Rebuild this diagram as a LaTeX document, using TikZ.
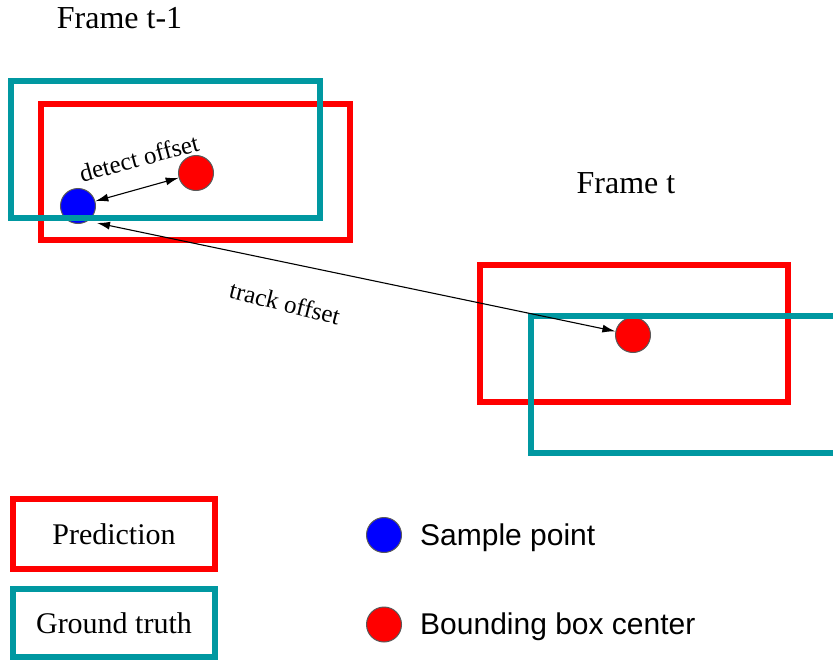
\documentclass[tikz,border=0pt]{standalone}
\usepackage{fontspec}
\setmainfont{Liberation Serif}
\newfontfamily\legendsans{Liberation Sans}
\usetikzlibrary{arrows.meta}
\definecolor{gtteal}{RGB}{0,152,161}
\definecolor{predred}{RGB}{255,0,0}
\definecolor{dotblue}{RGB}{0,0,255}
\begin{document}
\begin{tikzpicture}[x=1pt,y=-1pt,
  predbox/.style={draw=predred,line width=6pt},
  gtbox/.style={draw=gtteal,line width=6pt},
  dot/.style={circle,draw=black!65,line width=1pt,minimum size=35pt,inner sep=0pt},
  sampledot/.style={dot,fill=dotblue},
  centerdot/.style={dot,fill=predred},
  offsetarrow/.style={{Latex[length=13pt,width=8pt]}-{Latex[length=13pt,width=8pt]},line width=1.1pt,black},
  frametitle/.style={font=\fontsize{32}{38}\selectfont,anchor=base,inner sep=0pt},
  offsetlabel/.style={font=\fontsize{25}{30}\selectfont,inner sep=0pt},
  legendtext/.style={font=\fontsize{30}{36}\selectfont,inner sep=0pt},
  legendsanstext/.style={font=\legendsans\fontsize{30}{36}\selectfont,anchor=base west,inner sep=0pt}
]
\useasboundingbox (0,0) rectangle (833,661);

% frame titles
\node[frametitle] (ttlprev) at (119.5,29) {Frame t-1};
\node[frametitle] (ttlcur) at (626,193) {Frame t};

% points
\node[sampledot] (sample) at (78,206) {};
\node[centerdot] (cprev) at (196,173) {};
\node[centerdot] (ccur) at (633,335) {};

% frame t-1 boxes
\draw[predbox] (40.5,104) rectangle (350,240);
\draw[gtbox] (10.5,81) rectangle (320,217.5);

% frame t boxes
\draw[predbox] (480,265) rectangle (788,402);
\draw[gtbox] (531,316) rectangle (845,453);

% offsets
\coordinate (trackstart) at (97,223);
\draw[offsetarrow] (sample) -- (cprev);
\draw[offsetarrow] (trackstart) -- (ccur);
\node[offsetlabel,rotate=15] (detlbl) at (139,158) {detect offset};
\node[offsetlabel,rotate=-14] (trklbl) at (285,303) {track offset};

% legend
\node[predbox,minimum width=202pt,minimum height=70pt,inner sep=0pt] (legpred) at (114,534) {};
\node[legendtext] at (legpred) {Prediction};
\node[gtbox,minimum width=202pt,minimum height=68pt,inner sep=0pt] (leggt) at (114,623) {};
\node[legendtext] at (leggt) {Ground truth};
\node[sampledot] (legsample) at (384,535) {};
\node[legendsanstext] (legsampletxt) at (420,545) {Sample point};
\node[centerdot] (legcenter) at (384,624.5) {};
\node[legendsanstext] (legcentertxt) at (420,634) {Bounding box center};
\end{tikzpicture}
\end{document}
